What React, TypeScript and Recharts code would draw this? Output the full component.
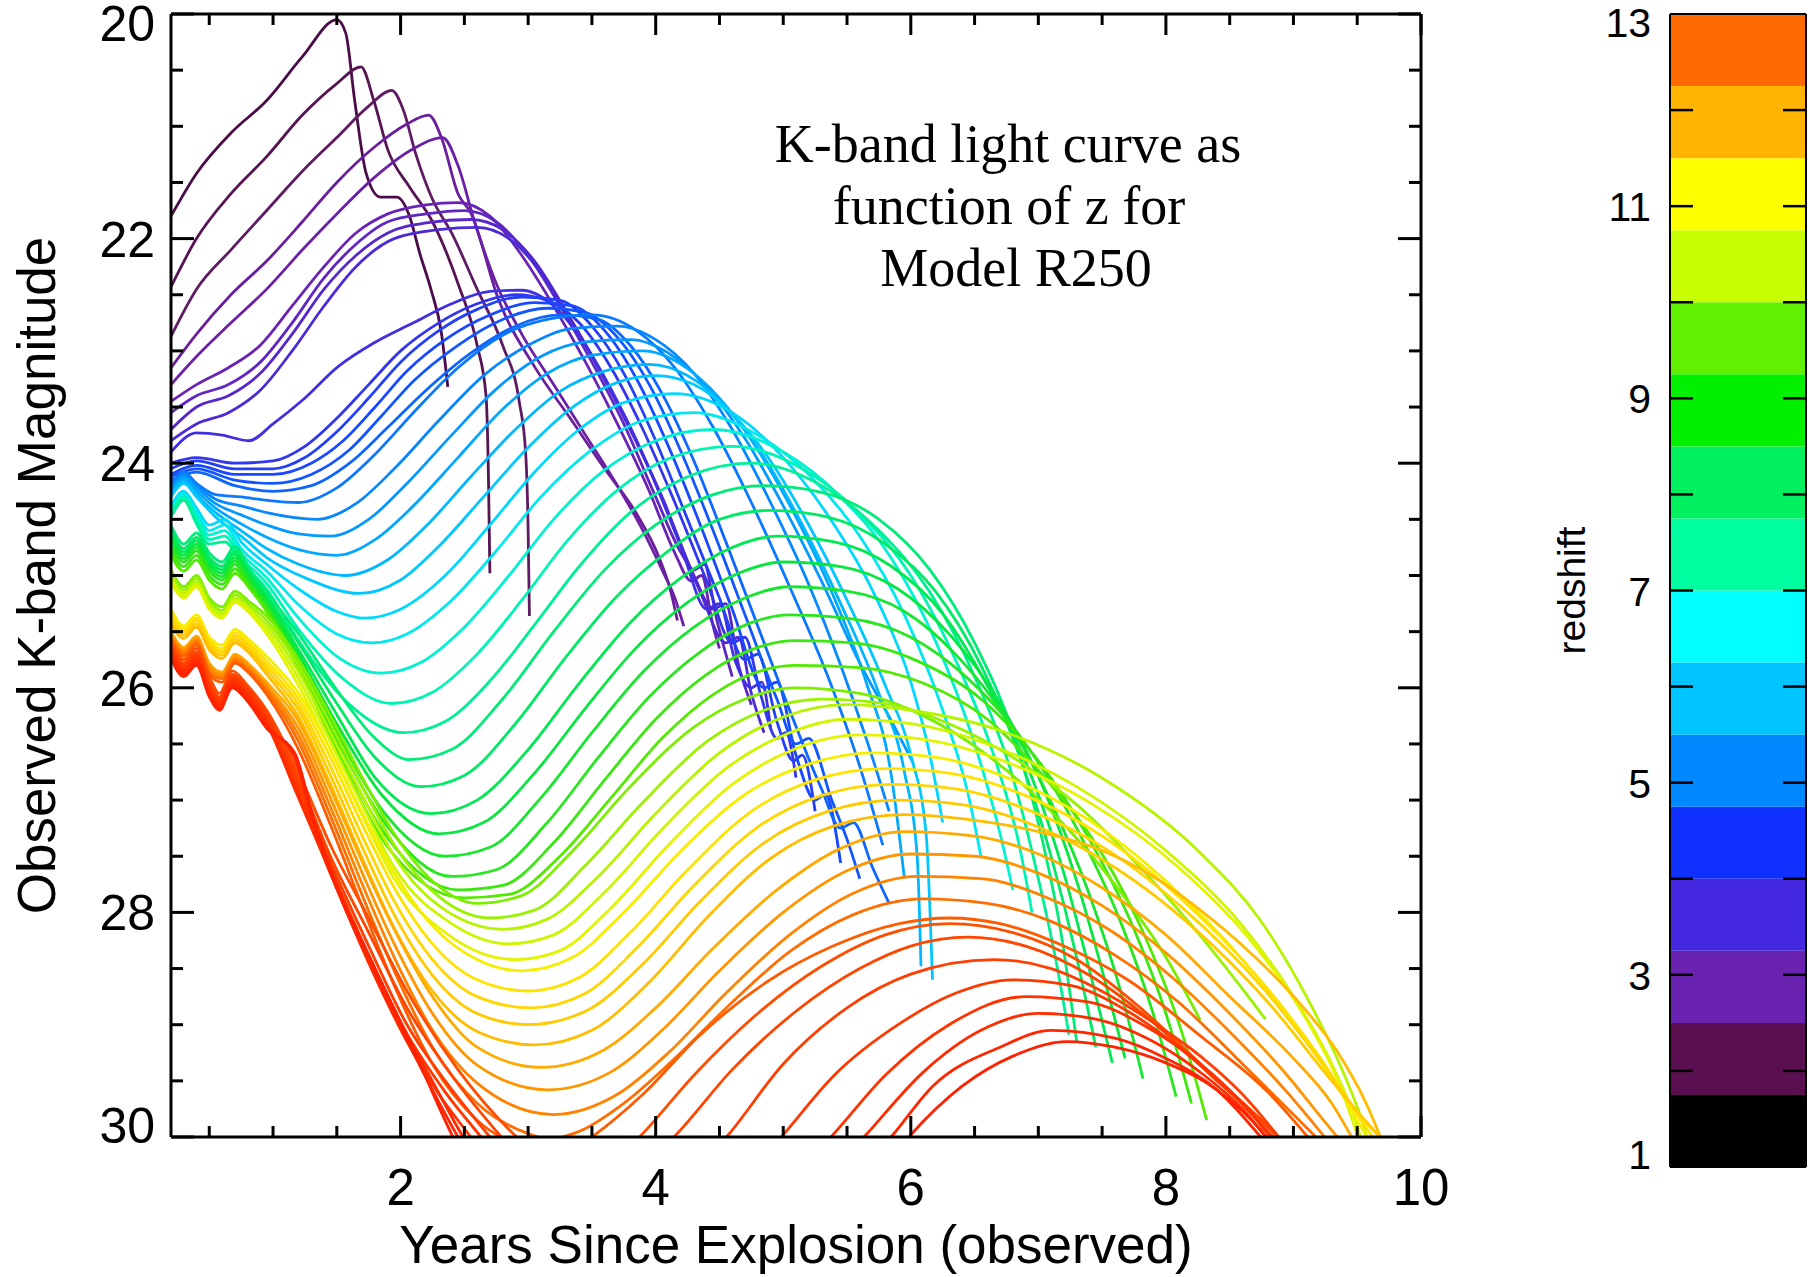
import React from 'react';
import { LineChart, Line, XAxis, YAxis, BarChart, Bar } from 'recharts';

type Pt = [number, number];

const SANS = '"Liberation Sans", Arial, Helvetica, sans-serif';
const SERIF = '"Liberation Serif", "Times New Roman", serif';

// axis ticks
const xTicks = [0.5, 1, 1.5, 2, 2.5, 3, 3.5, 4, 4.5, 5, 5.5, 6, 6.5, 7, 7.5, 8, 8.5, 9, 9.5, 10];
const xLabels = [2, 4, 6, 8, 10];
const yTicks = [20, 20.5, 21, 21.5, 22, 22.5, 23, 23.5, 24, 24.5, 25, 25.5, 26, 26.5, 27, 27.5, 28, 28.5, 29, 29.5, 30];
const yLabels = [20, 22, 24, 26, 28, 30];

// redshift colour bar
const zTicks = [1, 2, 3, 4, 5, 6, 7, 8, 9, 10, 11, 12, 13];
const zLabels = [1, 3, 5, 7, 9, 11, 13];
const zBandStart = [1, 1.75, 2.5, 3.25, 4, 4.75, 5.5, 6.25, 7, 7.75, 8.5, 9.25, 10, 10.75, 11.5, 12.25];
const zBandColor = [
  '#000000', '#5a1050', '#6a22b0', '#4428e0', '#1030ff', '#0088ff', '#00c4ff', '#00ffff',
  '#00ffa0', '#00f060', '#00f000', '#60f000', '#c8ff00', '#ffff00', '#ffb400', '#ff6a00',
];
const Z_BAND = 0.75;

const noteLines = ['K-band light curve as', 'function of z for', 'Model R250'];

// light curves, [years, K mag]
// z ~ 2
const dp1: Pt[] = [[0.2,21.8],[0.4,21.42],[0.67,21.06],[0.95,20.77],[1.23,20.38],[1.5,20.05],[1.57,20.17],[1.64,20.77],[1.73,21.42],[1.84,21.63],[1.97,21.63],[2.07,21.8],[2.15,22.13],[2.24,22.46],[2.32,22.84],[2.37,23.32]];
const dp2: Pt[] = [[0.2,22.43],[0.4,22.0],[0.67,21.6],[0.95,21.27],[1.23,20.9],[1.5,20.62],[1.69,20.47],[1.79,20.77],[1.9,21.21],[2.07,21.54],[2.25,21.85],[2.45,22.4],[2.6,22.95],[2.67,23.4],[2.69,24.2],[2.7,24.98]];
const dp3: Pt[] = [[0.2,22.87],[0.4,22.45],[0.67,22.1],[0.95,21.75],[1.23,21.4],[1.5,21.1],[1.75,20.82],[1.93,20.68],[2.02,20.85],[2.12,21.25],[2.25,21.65],[2.4,21.95],[2.6,22.45],[2.8,22.95],[2.93,23.45],[2.98,23.9],[3.0,24.6],[3.01,25.36]];

// z ~ 3
const pu1: Pt[] = [[0.2,23.15],[0.4,22.85],[0.67,22.5],[0.95,22.2],[1.23,21.85],[1.5,21.5],[1.8,21.18],[2.05,20.98],[2.22,20.9],[2.32,21.1],[2.45,21.6],[2.55,21.77],[2.77,22.55],[3.05,23.14],[3.33,23.6],[3.6,24.05],[3.85,24.45],[4.03,24.85],[4.12,25.15],[4.17,25.4]];
const pu2: Pt[] = [[0.2,23.3],[0.4,23.05],[0.67,22.75],[0.95,22.45],[1.23,22.1],[1.5,21.78],[1.8,21.45],[2.1,21.2],[2.33,21.1],[2.45,21.35],[2.58,21.85],[2.75,22.4],[2.95,22.85],[3.2,23.3],[3.45,23.75],[3.7,24.2],[3.9,24.6],[4.05,24.95],[4.15,25.2],[4.22,25.45]];
const pu3: Pt[] = [[0.2,23.45],[0.4,23.3],[0.65,23.15],[0.9,22.95],[1.15,22.6],[1.4,22.25],[1.65,21.95],[1.9,21.78],[2.2,21.7],[2.45,21.68],[2.7,21.8],[2.95,22.15],[3.2,22.6],[3.45,23.1],[3.7,23.65],[3.95,24.25],[4.15,24.8],[4.28,25.05],[4.36,25.0],[4.45,25.45],[4.5,25.65]];
const pu4: Pt[] = [[0.2,23.55],[0.4,23.4],[0.65,23.3],[0.9,23.1],[1.15,22.75],[1.4,22.35],[1.65,22.05],[1.9,21.85],[2.2,21.78],[2.5,21.75],[2.75,21.85],[3.0,22.15],[3.25,22.6],[3.5,23.1],[3.75,23.65],[4.0,24.3],[4.2,24.8],[4.3,24.95],[4.38,24.9],[4.48,25.4],[4.6,25.9]];
const pu5: Pt[] = [[0.2,23.7],[0.4,23.5],[0.65,23.4],[0.9,23.2],[1.15,22.85],[1.4,22.45],[1.65,22.15],[1.9,21.95],[2.2,21.86],[2.55,21.83],[2.8,21.92],[3.05,22.2],[3.3,22.65],[3.55,23.15],[3.8,23.7],[4.05,24.3],[4.3,25.0],[4.45,25.3],[4.55,25.25],[4.65,25.8],[4.75,26.15]];
const pu6: Pt[] = [[0.2,23.8],[0.4,23.65],[0.65,23.55],[0.9,23.35],[1.15,23.0],[1.4,22.6],[1.65,22.25],[1.95,22.0],[2.3,21.92],[2.6,21.9],[2.85,22.0],[3.1,22.3],[3.35,22.75],[3.6,23.25],[3.85,23.8],[4.1,24.45],[4.35,25.15],[4.55,25.6],[4.65,25.55],[4.75,26.05],[4.85,26.4]];

// z ~ 4
const bl1: Pt[] = [[0.2,23.9],[0.4,23.73],[0.6,23.75],[0.81,23.8],[1.0,23.65],[1.23,23.44],[1.51,23.14],[1.79,22.93],[2.1,22.75],[2.4,22.58],[2.7,22.47],[2.95,22.46],[3.2,22.6],[3.45,22.95],[3.7,23.45],[3.95,24.05],[4.2,24.75],[4.4,25.3],[4.5,25.25],[4.62,25.75],[4.75,26.0],[4.83,25.95],[4.9,26.35]];
const bl2: Pt[] = [[0.2,24.0],[0.4,23.95],[0.7,24.0],[1.0,23.98],[1.25,23.85],[1.5,23.6],[1.75,23.3],[2.0,23.0],[2.3,22.75],[2.6,22.58],[2.9,22.5],[3.15,22.55],[3.4,22.75],[3.65,23.15],[3.9,23.7],[4.15,24.35],[4.4,25.05],[4.6,25.6],[4.7,25.55],[4.82,26.05],[4.95,26.45],[5.02,26.4],[5.1,26.8]];
const bl3: Pt[] = [[0.2,24.05],[0.4,23.98],[0.7,24.05],[1.0,24.05],[1.25,23.95],[1.5,23.72],[1.75,23.42],[2.0,23.1],[2.3,22.82],[2.6,22.63],[2.95,22.52],[3.25,22.55],[3.5,22.78],[3.75,23.2],[4.0,23.8],[4.25,24.5],[4.5,25.2],[4.7,25.75],[4.8,25.7],[4.95,26.3],[5.08,26.65],[5.15,26.6],[5.25,27.1]];
const bl4: Pt[] = [[0.2,24.1],[0.4,24.02],[0.7,24.1],[1.0,24.1],[1.3,24.0],[1.55,23.8],[1.8,23.5],[2.05,23.18],[2.35,22.9],[2.7,22.68],[3.05,22.57],[3.35,22.6],[3.6,22.82],[3.85,23.25],[4.1,23.85],[4.35,24.55],[4.6,25.3],[4.85,26.0],[4.95,25.95],[5.1,26.6],[5.25,27.0],[5.33,26.95],[5.45,27.56]];
const bl5: Pt[] = [[0.2,24.12],[0.4,24.05],[0.7,24.15],[1.0,24.18],[1.3,24.1],[1.6,23.88],[1.85,23.58],[2.1,23.27],[2.45,22.95],[2.8,22.72],[3.15,22.62],[3.45,22.66],[3.7,22.88],[3.95,23.3],[4.2,23.9],[4.45,24.6],[4.7,25.35],[4.95,26.1],[5.1,26.5],[5.2,26.45],[5.38,27.0],[5.5,27.35],[5.6,27.7]];
const bl6: Pt[] = [[0.2,24.15],[0.4,24.08],[0.7,24.2],[1.0,24.25],[1.3,24.2],[1.6,24.0],[1.9,23.68],[2.2,23.35],[2.55,23.02],[2.9,22.78],[3.25,22.68],[3.55,22.72],[3.8,22.95],[4.05,23.38],[4.3,23.98],[4.55,24.7],[4.8,25.45],[5.05,26.2],[5.3,26.9],[5.45,27.25],[5.55,27.2],[5.7,27.6],[5.83,27.92]];

// z ~ 5-6
const az1: Pt[] = [[0.2,24.2],[0.3,24.08],[0.4,24.18],[0.55,24.28],[0.75,24.3],[0.95,24.33],[1.2,24.35],[1.5,24.22],[1.8,23.92],[2.1,23.55],[2.45,23.15],[2.8,22.86],[3.15,22.72],[3.5,22.68],[3.85,22.82],[4.15,23.15],[4.45,23.68],[4.75,24.35],[5.05,25.1],[5.35,25.9],[5.6,26.7],[5.78,27.4]];
const az2: Pt[] = [[0.2,24.22],[0.3,24.1],[0.4,24.2],[0.55,24.32],[0.75,24.38],[0.95,24.44],[1.35,24.5],[1.65,24.36],[1.95,24.05],[2.3,23.62],[2.65,23.22],[3.0,22.95],[3.35,22.8],[3.7,22.78],[4.0,22.9],[4.3,23.2],[4.6,23.7],[4.9,24.35],[5.2,25.08],[5.45,25.8],[5.65,26.45],[5.83,27.1]];
const az3: Pt[] = [[0.2,24.24],[0.3,24.12],[0.4,24.22],[0.55,24.36],[0.75,24.46],[0.95,24.55],[1.2,24.63],[1.45,24.65],[1.75,24.5],[2.05,24.18],[2.4,23.75],[2.75,23.34],[3.1,23.05],[3.45,22.92],[3.8,22.9],[4.1,23.02],[4.4,23.32],[4.7,23.78],[5.0,24.38],[5.3,25.05],[5.6,25.78],[5.85,26.3],[6.02,26.67]];
const az4: Pt[] = [[0.2,24.26],[0.3,24.14],[0.4,24.25],[0.55,24.4],[0.75,24.54],[0.95,24.66],[1.2,24.77],[1.5,24.82],[1.8,24.68],[2.1,24.38],[2.45,23.95],[2.8,23.52],[3.15,23.2],[3.5,23.04],[3.9,23.0],[4.2,23.12],[4.5,23.42],[4.8,23.88],[5.1,24.48],[5.4,25.2],[5.65,25.95],[5.85,26.8],[5.95,27.7]];
const az5: Pt[] = [[0.2,24.28],[0.3,24.16],[0.4,24.28],[0.55,24.44],[0.75,24.6],[0.95,24.76],[1.2,24.9],[1.57,25.0],[1.9,24.86],[2.2,24.56],[2.55,24.12],[2.9,23.7],[3.25,23.36],[3.6,23.18],[3.95,23.12],[4.25,23.22],[4.55,23.5],[4.85,23.95],[5.15,24.55],[5.45,25.25],[5.75,26.05],[5.95,26.75],[6.05,27.5],[6.08,28.48]];
const az6: Pt[] = [[0.2,24.3],[0.3,24.18],[0.4,24.3],[0.55,24.48],[0.75,24.65],[0.95,24.84],[1.25,25.02],[1.68,25.16],[2.0,25.04],[2.3,24.74],[2.65,24.3],[3.0,23.86],[3.35,23.5],[3.7,23.28],[4.0,23.22],[4.3,23.3],[4.6,23.56],[4.9,23.98],[5.2,24.55],[5.5,25.22],[5.8,25.98],[6.0,26.6],[6.12,27.3],[6.17,28.6]];

// z ~ 7
const cy1: Pt[] = [[0.2,24.38],[0.3,24.25],[0.4,24.4],[0.5,24.55],[0.62,24.5],[0.75,24.7],[0.95,24.9],[1.2,25.12],[1.5,25.32],[1.72,25.38],[2.0,25.3],[2.35,25.0],[2.7,24.55],[3.05,24.08],[3.4,23.7],[3.75,23.46],[4.15,23.38],[4.6,23.55],[5.0,23.95],[5.4,24.55],[5.75,25.25],[6.0,25.95],[6.15,26.6],[6.25,27.2]];
const cy2: Pt[] = [[0.2,24.4],[0.3,24.27],[0.4,24.43],[0.5,24.6],[0.62,24.55],[0.75,24.76],[0.95,24.96],[1.2,25.26],[1.5,25.52],[1.78,25.6],[2.05,25.52],[2.4,25.22],[2.75,24.78],[3.1,24.3],[3.5,23.88],[3.9,23.62],[4.3,23.55],[4.8,23.75],[5.2,24.1],[5.6,24.65],[5.95,25.35],[6.25,26.2],[6.45,26.95],[6.55,27.5]];
const cy3: Pt[] = [[0.2,24.42],[0.3,24.29],[0.4,24.46],[0.5,24.64],[0.62,24.6],[0.75,24.8],[0.95,25.02],[1.2,25.38],[1.5,25.72],[1.85,25.87],[2.15,25.78],[2.5,25.46],[2.85,25.0],[3.2,24.5],[3.6,24.06],[4.0,23.8],[4.45,23.7],[5.0,23.9],[5.45,24.3],[5.85,24.85],[6.2,25.6],[6.5,26.5],[6.7,27.3],[6.8,27.8]];
const cy4: Pt[] = [[0.2,24.45],[0.3,24.31],[0.4,24.5],[0.5,24.68],[0.62,24.65],[0.75,24.84],[0.95,25.07],[1.2,25.48],[1.55,25.92],[1.93,26.14],[2.25,26.04],[2.6,25.7],[2.95,25.22],[3.3,24.7],[3.7,24.24],[4.1,23.96],[4.6,23.85],[5.15,24.05],[5.6,24.45],[6.0,25.0],[6.35,25.75],[6.65,26.6],[6.85,27.4],[6.95,28.0]];
const cy5: Pt[] = [[0.2,24.48],[0.3,24.33],[0.4,24.54],[0.5,24.72],[0.62,24.7],[0.75,24.88],[0.95,25.12],[1.2,25.58],[1.6,26.15],[2.02,26.4],[2.35,26.3],[2.7,25.94],[3.05,25.44],[3.4,24.92],[3.8,24.44],[4.25,24.12],[4.75,24.0],[5.3,24.2],[5.75,24.6],[6.15,25.15],[6.5,25.9],[6.8,26.8],[7.0,27.7],[7.15,28.5],[7.24,29.09]];

// z ~ 8-9
const gr1: Pt[] = [[0.2,24.55],[0.3,24.72],[0.4,24.62],[0.5,24.8],[0.6,24.88],[0.7,24.74],[0.82,24.95],[0.95,25.15],[1.2,25.52],[1.5,26.02],[1.8,26.45],[2.07,26.64],[2.4,26.55],[2.8,26.1],[3.2,25.5],[3.6,24.95],[4.0,24.55],[4.45,24.28],[4.85,24.2],[5.3,24.26],[5.75,24.5],[6.15,24.95],[6.5,25.6],[6.8,26.4],[7.02,27.3],[7.18,28.2],[7.3,29.15]];
const gr2: Pt[] = [[0.2,24.6],[0.3,24.76],[0.4,24.66],[0.5,24.84],[0.6,24.92],[0.7,24.78],[0.82,24.98],[0.95,25.18],[1.2,25.6],[1.5,26.14],[1.8,26.62],[2.16,26.88],[2.5,26.78],[2.9,26.32],[3.3,25.72],[3.7,25.18],[4.1,24.78],[4.5,24.5],[4.9,24.42],[5.35,24.48],[5.8,24.72],[6.2,25.15],[6.55,25.8],[6.85,26.6],[7.1,27.5],[7.3,28.4],[7.45,29.2]];
const gr3: Pt[] = [[0.2,24.63],[0.3,24.79],[0.4,24.69],[0.5,24.87],[0.6,24.95],[0.7,24.81],[0.82,25.0],[0.95,25.2],[1.2,25.66],[1.5,26.24],[1.8,26.8],[2.24,27.12],[2.6,27.0],[3.0,26.55],[3.4,25.96],[3.8,25.42],[4.2,25.02],[4.6,24.75],[4.95,24.65],[5.4,24.7],[5.85,24.92],[6.25,25.34],[6.6,25.98],[6.95,26.8],[7.2,27.65],[7.42,28.6],[7.58,29.34]];
const gr4: Pt[] = [[0.2,24.66],[0.3,24.82],[0.4,24.72],[0.5,24.9],[0.6,24.98],[0.7,24.84],[0.82,25.02],[0.95,25.22],[1.2,25.7],[1.5,26.32],[1.85,26.95],[2.3,27.3],[2.65,27.2],[3.05,26.76],[3.45,26.18],[3.85,25.64],[4.25,25.24],[4.65,24.98],[5.0,24.88],[5.45,24.92],[5.9,25.12],[6.3,25.52],[6.7,26.14],[7.05,26.92],[7.3,27.72],[7.52,28.6],[7.68,29.3]];
const gr5: Pt[] = [[0.2,24.7],[0.3,24.85],[0.4,24.75],[0.5,24.93],[0.6,25.01],[0.7,24.87],[0.82,25.05],[0.95,25.25],[1.2,25.74],[1.5,26.4],[1.85,27.08],[2.35,27.5],[2.7,27.42],[3.1,26.98],[3.5,26.4],[3.9,25.86],[4.3,25.46],[4.7,25.2],[5.05,25.1],[5.5,25.14],[5.95,25.32],[6.35,25.7],[6.75,26.28],[7.1,27.02],[7.4,27.84],[7.65,28.72],[7.82,29.48]];
const gr6: Pt[] = [[0.2,24.74],[0.3,24.88],[0.4,24.78],[0.5,24.96],[0.6,25.04],[0.7,24.9],[0.82,25.08],[0.95,25.28],[1.2,25.78],[1.5,26.46],[1.9,27.24],[2.4,27.68],[2.75,27.62],[3.15,27.2],[3.55,26.62],[3.95,26.08],[4.35,25.68],[4.75,25.42],[5.05,25.35],[5.5,25.38],[6.0,25.55],[6.45,25.92],[6.9,26.5],[7.3,27.25],[7.65,28.1],[7.9,28.9],[8.08,29.64]];
const gr7: Pt[] = [[0.2,24.78],[0.3,24.92],[0.4,24.82],[0.5,25.0],[0.6,25.08],[0.7,24.94],[0.82,25.1],[0.95,25.3],[1.2,25.8],[1.5,26.52],[1.9,27.34],[2.45,27.8],[2.8,27.76],[3.2,27.38],[3.6,26.82],[4.0,26.28],[4.4,25.88],[4.8,25.64],[5.1,25.58],[5.55,25.6],[6.05,25.76],[6.55,26.1],[7.0,26.65],[7.4,27.35],[7.75,28.15],[8.0,28.9],[8.2,29.7]];
const gr8: Pt[] = [[0.2,24.82],[0.3,24.96],[0.4,24.86],[0.5,25.04],[0.6,25.12],[0.7,24.98],[0.82,25.12],[0.95,25.32],[1.2,25.82],[1.5,26.56],[1.9,27.42],[2.5,27.87],[2.85,27.84],[3.25,27.5],[3.65,26.98],[4.05,26.45],[4.45,26.06],[4.85,25.84],[5.1,25.8],[5.6,25.82],[6.1,25.96],[6.6,26.28],[7.05,26.8],[7.5,27.48],[7.85,28.25],[8.12,29.05],[8.32,29.85]];

// z ~ 10
const lm1: Pt[] = [[0.2,24.95],[0.3,25.1],[0.4,25.0],[0.5,25.2],[0.6,25.28],[0.7,25.14],[0.82,25.24],[0.95,25.36],[1.2,25.75],[1.45,26.25],[1.7,26.8],[1.95,27.3],[2.25,27.72],[2.6,27.92],[2.95,27.85],[3.35,27.45],[3.8,26.88],[4.3,26.35],[4.7,26.1],[5.1,26.0],[5.6,26.05],[6.1,26.25],[6.6,26.6],[7.1,27.1],[7.6,27.75],[8.0,28.4],[8.27,28.96]];
const lm2: Pt[] = [[0.2,24.98],[0.3,25.13],[0.4,25.03],[0.5,25.23],[0.6,25.31],[0.7,25.17],[0.82,25.27],[0.95,25.4],[1.2,25.8],[1.45,26.32],[1.7,26.88],[1.95,27.4],[2.3,27.86],[2.7,28.05],[3.05,27.98],[3.45,27.58],[3.9,27.02],[4.4,26.48],[4.85,26.2],[5.3,26.1],[5.8,26.14],[6.3,26.32],[6.8,26.62],[7.3,27.04],[7.8,27.6],[8.3,28.25],[8.78,28.95]];
const lm3: Pt[] = [[0.2,25.0],[0.3,25.16],[0.4,25.06],[0.5,25.26],[0.6,25.34],[0.7,25.2],[0.82,25.3],[0.95,25.44],[1.2,25.86],[1.45,26.4],[1.7,26.96],[1.95,27.5],[2.35,27.98],[2.8,28.15],[3.15,28.06],[3.55,27.68],[4.0,27.12],[4.5,26.58],[5.0,26.26],[5.5,26.15],[6.0,26.2],[6.7,26.38],[7.48,26.79],[8.27,27.47],[8.74,28.07],[9.13,28.81],[9.4,29.45],[9.55,29.9],[9.6,30.1]];
const lm4: Pt[] = [[0.2,25.03],[0.3,25.18],[0.4,25.08],[0.5,25.28],[0.6,25.36],[0.7,25.22],[0.82,25.32],[0.95,25.48],[1.2,25.92],[1.45,26.48],[1.7,27.05],[1.95,27.6],[2.4,28.1],[2.85,28.28],[3.2,28.2],[3.6,27.82],[4.05,27.26],[4.55,26.72],[5.05,26.4],[5.5,26.28],[6.0,26.32],[6.6,26.5],[7.3,26.88],[8.0,27.45],[8.6,28.12],[9.0,28.75],[9.3,29.35],[9.5,29.9],[9.55,30.1]];
const lm5: Pt[] = [[0.2,25.06],[0.3,25.2],[0.4,25.1],[0.5,25.3],[0.6,25.38],[0.7,25.24],[0.82,25.34],[0.95,25.52],[1.2,25.98],[1.45,26.55],[1.7,27.14],[1.95,27.7],[2.4,28.22],[2.9,28.42],[3.25,28.34],[3.65,27.96],[4.1,27.4],[4.6,26.86],[5.1,26.54],[5.6,26.42],[6.1,26.46],[6.7,26.64],[7.4,27.02],[8.1,27.6],[8.7,28.3],[9.1,28.95],[9.35,29.5],[9.52,30.05]];

// z ~ 11
const ye1: Pt[] = [[0.2,25.3],[0.3,25.45],[0.4,25.35],[0.5,25.55],[0.6,25.62],[0.7,25.48],[0.82,25.58],[0.95,25.72],[1.2,26.05],[1.45,26.55],[1.7,27.12],[1.95,27.65],[2.25,28.12],[2.6,28.42],[2.95,28.52],[3.35,28.4],[3.75,28.0],[4.2,27.45],[4.7,26.95],[5.2,26.68],[5.7,26.58],[6.2,26.62],[6.8,26.82],[7.4,27.18],[8.0,27.72],[8.6,28.42],[9.1,29.15],[9.45,29.75],[9.6,30.05]];
const ye2: Pt[] = [[0.2,25.33],[0.3,25.48],[0.4,25.38],[0.5,25.58],[0.6,25.65],[0.7,25.51],[0.82,25.61],[0.95,25.76],[1.2,26.1],[1.45,26.62],[1.7,27.22],[1.95,27.78],[2.25,28.28],[2.6,28.6],[3.0,28.7],[3.4,28.58],[3.8,28.18],[4.25,27.62],[4.75,27.1],[5.25,26.82],[5.8,26.72],[6.3,26.76],[6.9,26.96],[7.5,27.32],[8.1,27.86],[8.7,28.55],[9.2,29.28],[9.5,29.8],[9.65,30.05]];
const ye3: Pt[] = [[0.2,25.36],[0.3,25.5],[0.4,25.4],[0.5,25.6],[0.6,25.68],[0.7,25.54],[0.82,25.64],[0.95,25.8],[1.2,26.15],[1.45,26.7],[1.7,27.32],[1.95,27.9],[2.25,28.42],[2.6,28.75],[3.02,28.85],[3.45,28.72],[3.85,28.32],[4.3,27.76],[4.8,27.24],[5.3,26.96],[5.85,26.86],[6.35,26.9],[6.95,27.1],[7.55,27.45],[8.15,27.98],[8.75,28.66],[9.25,29.38],[9.55,29.85],[9.72,30.05]];
const ye4: Pt[] = [[0.2,25.4],[0.3,25.53],[0.4,25.43],[0.5,25.63],[0.6,25.71],[0.7,25.57],[0.82,25.67],[0.95,25.84],[1.2,26.2],[1.45,26.78],[1.7,27.42],[1.95,28.02],[2.25,28.56],[2.6,28.9],[3.0,29.0],[3.45,28.88],[3.9,28.46],[4.35,27.9],[4.85,27.38],[5.35,27.1],[5.9,27.0],[6.4,27.04],[7.0,27.24],[7.6,27.6],[8.2,28.12],[8.8,28.8],[9.3,29.5],[9.6,29.9],[9.76,30.1]];
const ye5: Pt[] = [[0.2,25.44],[0.3,25.56],[0.4,25.46],[0.5,25.66],[0.6,25.74],[0.7,25.6],[0.82,25.7],[0.95,25.88],[1.2,26.26],[1.45,26.86],[1.7,27.52],[1.95,28.14],[2.25,28.7],[2.6,29.06],[3.05,29.18],[3.5,29.05],[3.95,28.62],[4.4,28.05],[4.9,27.52],[5.4,27.23],[5.95,27.13],[6.5,27.18],[7.0,27.28],[7.48,27.44],[7.9,27.68],[8.27,27.98],[8.7,28.4],[9.05,28.81],[9.35,29.25],[9.57,29.7],[9.7,30.05]];

// z ~ 12
const or1: Pt[] = [[0.2,25.5],[0.3,25.64],[0.4,25.54],[0.5,25.78],[0.6,25.86],[0.7,25.7],[0.82,25.8],[0.95,25.95],[1.2,26.3],[1.45,26.9],[1.7,27.55],[1.95,28.15],[2.25,28.75],[2.6,29.2],[3.1,29.38],[3.6,29.22],[4.0,28.85],[4.45,28.32],[4.95,27.8],[5.45,27.43],[5.95,27.28],[6.5,27.32],[7.0,27.48],[7.5,27.78],[8.0,28.2],[8.5,28.75],[9.0,29.3],[9.3,29.7],[9.48,30.05]];
const or2: Pt[] = [[0.2,25.52],[0.3,25.66],[0.4,25.56],[0.5,25.8],[0.6,25.88],[0.7,25.72],[0.82,25.82],[0.95,25.98],[1.2,26.36],[1.45,26.98],[1.7,27.65],[1.95,28.28],[2.25,28.9],[2.6,29.36],[3.15,29.58],[3.65,29.42],[4.05,29.05],[4.5,28.52],[5.0,28.0],[5.5,27.63],[6.0,27.48],[6.5,27.5],[7.0,27.65],[7.5,27.94],[8.0,28.36],[8.5,28.9],[8.95,29.45],[9.2,29.8],[9.38,30.05]];
const or3: Pt[] = [[0.2,25.54],[0.3,25.68],[0.4,25.58],[0.5,25.83],[0.6,25.9],[0.7,25.74],[0.82,25.84],[0.95,26.0],[1.2,26.42],[1.45,27.06],[1.7,27.75],[1.95,28.4],[2.25,29.05],[2.6,29.52],[3.2,29.8],[3.7,29.62],[4.1,29.25],[4.55,28.72],[5.05,28.2],[5.55,27.83],[6.05,27.68],[6.55,27.7],[7.05,27.86],[7.55,28.15],[8.05,28.58],[8.55,29.12],[8.95,29.6],[9.28,30.05]];
const or4: Pt[] = [[0.2,25.56],[0.3,25.7],[0.4,25.6],[0.5,25.86],[0.6,25.92],[0.7,25.76],[0.82,25.86],[0.95,26.03],[1.2,26.48],[1.45,27.14],[1.7,27.85],[1.95,28.52],[2.25,29.2],[2.6,29.7],[3.0,29.97],[3.16,30.02],[3.4,29.95],[3.75,29.7],[4.15,29.3],[4.6,28.8],[5.05,28.35],[5.55,28.02],[6.1,27.88],[6.6,27.92],[7.1,28.08],[7.6,28.38],[8.1,28.8],[8.6,29.35],[9.0,29.8],[9.22,30.05]];
const or5: Pt[] = [[0.2,25.58],[0.3,25.72],[0.4,25.62],[0.5,25.88],[0.6,25.95],[0.7,25.78],[0.82,25.88],[0.95,26.06],[1.2,26.55],[1.45,27.22],[1.7,27.95],[1.95,28.65],[2.25,29.35],[2.6,29.85],[3.0,30.1],[3.3,30.15],[3.5,30.0],[3.9,29.62],[4.34,29.1],[4.87,28.62],[5.39,28.3],[5.91,28.1],[6.3,28.05],[6.7,28.1],[7.2,28.3],[7.7,28.6],[8.27,29.1],[8.8,29.6],[9.15,30.05]];

// z ~ 13
const rd1: Pt[] = [[0.2,25.6],[0.3,25.75],[0.4,25.65],[0.5,25.9],[0.58,26.05],[0.68,25.85],[0.8,25.98],[0.95,26.2],[1.2,26.75],[1.45,27.4],[1.75,28.05],[2.05,28.7],[2.45,29.4],[2.91,30.0],[3.3,30.35],[3.6,30.3],[3.89,29.98],[4.3,29.45],[4.8,28.9],[5.3,28.48],[5.8,28.2],[6.3,28.1],[6.8,28.18],[7.3,28.42],[7.8,28.85],[8.3,29.38],[8.7,29.8],[9.0,30.15]];
const rd2: Pt[] = [[0.2,25.62],[0.3,25.78],[0.4,25.68],[0.5,25.95],[0.58,26.08],[0.68,25.88],[0.8,26.0],[0.95,26.22],[1.2,26.8],[1.45,27.5],[1.75,28.18],[2.05,28.85],[2.4,29.45],[2.79,30.0],[3.2,30.5],[3.7,30.45],[4.16,29.98],[4.6,29.4],[5.1,28.88],[5.6,28.5],[6.0,28.3],[6.45,28.22],[6.9,28.3],[7.4,28.56],[7.9,28.98],[8.4,29.5],[8.75,29.85],[8.96,30.1]];
const rd3: Pt[] = [[0.2,25.64],[0.3,25.8],[0.4,25.7],[0.5,25.98],[0.58,26.1],[0.68,25.9],[0.8,26.02],[0.95,26.25],[1.2,26.85],[1.45,27.55],[1.75,28.3],[2.05,29.0],[2.35,29.5],[2.7,30.0],[3.2,30.7],[3.9,30.75],[4.57,29.98],[5.0,29.35],[5.5,28.85],[6.0,28.55],[6.65,28.42],[7.1,28.5],[7.48,28.69],[7.9,28.98],[8.27,29.28],[8.6,29.62],[8.92,30.05]];
const rd4: Pt[] = [[0.2,25.66],[0.3,25.82],[0.4,25.72],[0.5,26.0],[0.58,26.12],[0.68,25.92],[0.8,26.04],[0.95,26.28],[1.2,26.9],[1.45,27.6],[1.75,28.38],[2.05,29.08],[2.35,29.6],[2.63,30.0],[3.2,30.85],[4.0,31.0],[4.6,30.5],[5.0,29.98],[5.4,29.45],[5.9,29.0],[6.35,28.72],[6.8,28.6],[7.25,28.65],[7.7,28.88],[8.1,29.2],[8.5,29.6],[8.88,30.05]];
const rd5: Pt[] = [[0.2,25.68],[0.3,25.84],[0.4,25.74],[0.5,26.02],[0.58,26.14],[0.68,25.94],[0.8,26.06],[0.95,26.3],[1.2,26.95],[1.45,27.65],[1.75,28.45],[2.05,29.15],[2.3,29.62],[2.55,30.0],[3.2,31.0],[4.2,31.2],[5.0,30.45],[5.39,29.98],[5.8,29.45],[6.3,29.0],[6.9,28.75],[7.4,28.8],[7.85,29.02],[8.25,29.33],[8.6,29.7],[8.85,30.05]];
const rd6: Pt[] = [[0.2,25.7],[0.3,25.86],[0.4,25.76],[0.5,26.04],[0.58,26.16],[0.68,25.96],[0.8,26.08],[0.95,26.32],[1.17,26.9],[1.32,27.3],[1.6,28.05],[1.9,28.8],[2.2,29.4],[2.49,30.0],[3.2,31.1],[4.4,31.3],[5.2,30.55],[5.65,29.98],[6.1,29.42],[6.55,29.05],[7.0,28.9],[7.45,28.95],[7.9,29.15],[8.3,29.45],[8.6,29.75],[8.82,30.05]];
const rd7: Pt[] = [[0.2,25.72],[0.3,25.88],[0.4,25.78],[0.5,26.06],[0.58,26.18],[0.68,25.98],[0.8,26.1],[0.95,26.34],[1.17,26.62],[1.32,27.22],[1.45,27.64],[1.8,28.55],[2.1,29.25],[2.45,30.0],[3.2,31.3],[4.6,31.4],[5.4,30.55],[5.86,29.98],[6.17,29.55],[6.7,29.2],[7.1,29.05],[7.6,29.12],[8.0,29.3],[8.4,29.58],[8.78,30.05]];
const rd8: Pt[] = [[0.2,25.74],[0.3,25.9],[0.4,25.8],[0.5,26.08],[0.58,26.2],[0.68,26.0],[0.8,26.12],[0.95,26.36],[1.17,26.58],[1.32,27.18],[1.45,27.62],[1.8,28.5],[2.1,29.22],[2.41,30.0],[3.2,31.4],[4.8,31.5],[5.6,30.55],[6.0,29.98],[6.4,29.55],[6.8,29.28],[7.22,29.15],[7.6,29.2],[8.0,29.34],[8.4,29.58],[8.75,29.95],[8.85,30.1]];

// drawing order runs from low to high redshift
const series: { key: string; pts: Pt[]; color: string }[] = [
  { key: 'dp1', pts: dp1, color: '#4a0c48' },
  { key: 'dp2', pts: dp2, color: '#561452' },
  { key: 'dp3', pts: dp3, color: '#5e1a62' },
  { key: 'pu1', pts: pu1, color: '#6a1e9c' },
  { key: 'pu2', pts: pu2, color: '#6c20a6' },
  { key: 'pu3', pts: pu3, color: '#6a24b4' },
  { key: 'pu4', pts: pu4, color: '#6026c2' },
  { key: 'pu5', pts: pu5, color: '#5628cc' },
  { key: 'pu6', pts: pu6, color: '#4c2ad6' },
  { key: 'bl1', pts: bl1, color: '#4030e2' },
  { key: 'bl2', pts: bl2, color: '#3236ec' },
  { key: 'bl3', pts: bl3, color: '#2440f6' },
  { key: 'bl4', pts: bl4, color: '#1848ff' },
  { key: 'bl5', pts: bl5, color: '#1256ff' },
  { key: 'bl6', pts: bl6, color: '#0c66ff' },
  { key: 'az1', pts: az1, color: '#0a78ff' },
  { key: 'az2', pts: az2, color: '#0888ff' },
  { key: 'az3', pts: az3, color: '#0598ff' },
  { key: 'az4', pts: az4, color: '#02a8ff' },
  { key: 'az5', pts: az5, color: '#00b8ff' },
  { key: 'az6', pts: az6, color: '#00c8ff' },
  { key: 'cy1', pts: cy1, color: '#00d8ff' },
  { key: 'cy2', pts: cy2, color: '#00e8f0' },
  { key: 'cy3', pts: cy3, color: '#00f2d2' },
  { key: 'cy4', pts: cy4, color: '#00f4b4' },
  { key: 'cy5', pts: cy5, color: '#00f096' },
  { key: 'gr1', pts: gr1, color: '#00ec78' },
  { key: 'gr2', pts: gr2, color: '#00ea66' },
  { key: 'gr3', pts: gr3, color: '#00e852' },
  { key: 'gr4', pts: gr4, color: '#08e640' },
  { key: 'gr5', pts: gr5, color: '#18e630' },
  { key: 'gr6', pts: gr6, color: '#28e620' },
  { key: 'gr7', pts: gr7, color: '#3ae810' },
  { key: 'gr8', pts: gr8, color: '#52ea00' },
  { key: 'lm1', pts: lm1, color: '#7cee00' },
  { key: 'lm2', pts: lm2, color: '#9af200' },
  { key: 'lm3', pts: lm3, color: '#b6f400' },
  { key: 'lm4', pts: lm4, color: '#cef600' },
  { key: 'lm5', pts: lm5, color: '#e4f400' },
  { key: 'ye1', pts: ye1, color: '#f6ee00' },
  { key: 'ye2', pts: ye2, color: '#ffe200' },
  { key: 'ye3', pts: ye3, color: '#ffd600' },
  { key: 'ye4', pts: ye4, color: '#ffca00' },
  { key: 'ye5', pts: ye5, color: '#ffbc00' },
  { key: 'or1', pts: or1, color: '#ffaa00' },
  { key: 'or2', pts: or2, color: '#ff9600' },
  { key: 'or3', pts: or3, color: '#ff8200' },
  { key: 'or4', pts: or4, color: '#ff6e00' },
  { key: 'or5', pts: or5, color: '#ff5c00' },
  { key: 'rd1', pts: rd1, color: '#ff4e00' },
  { key: 'rd2', pts: rd2, color: '#ff4600' },
  { key: 'rd3', pts: rd3, color: '#ff3e00' },
  { key: 'rd4', pts: rd4, color: '#ff3800' },
  { key: 'rd5', pts: rd5, color: '#ff3200' },
  { key: 'rd6', pts: rd6, color: '#ff2c00' },
  { key: 'rd7', pts: rd7, color: '#ff2600' },
  { key: 'rd8', pts: rd8, color: '#ff2200' },
];

const TICK_W = 3;

// ticks point into the plot; only the even values carry a label
function BottomTick(props: any) {
  const { x, y, payload } = props;
  const major = xLabels.includes(payload.value);
  return (
    <g>
      <line x1={x} y1={y} x2={x} y2={y - (major ? 21 : 11)} stroke="#000" strokeWidth={TICK_W} />
      {major && (
        <text x={x} y={y + 68} textAnchor="middle" fontFamily={SANS} fontSize={51} fill="#000">
          {payload.value}
        </text>
      )}
    </g>
  );
}

function TopTick(props: any) {
  const { x, y, payload } = props;
  const major = xLabels.includes(payload.value);
  return <line x1={x} y1={y} x2={x} y2={y + (major ? 21 : 11)} stroke="#000" strokeWidth={TICK_W} />;
}

function LeftTick(props: any) {
  const { x, y, payload } = props;
  const v = payload.value;
  const major = yLabels.includes(v);
  // the two end labels sit a little inside the axis range
  const shift = v === 20 ? 9 : v === 30 ? -12 : 0;
  return (
    <g>
      <line x1={x} y1={y} x2={x + (major ? 23 : 12)} y2={y} stroke="#000" strokeWidth={TICK_W} />
      {major && (
        <text x={x - 16} y={y + shift + 18} textAnchor="end" fontFamily={SANS} fontSize={50} fill="#000">
          {v}
        </text>
      )}
    </g>
  );
}

function RightTick(props: any) {
  const { x, y, payload } = props;
  const major = yLabels.includes(payload.value);
  return <line x1={x} y1={y} x2={x - (major ? 23 : 12)} y2={y} stroke="#000" strokeWidth={TICK_W} />;
}

function BarLeftTick(props: any) {
  const { x, y, payload } = props;
  const v = payload.value;
  const inner = v > 1 && v < 13;
  const shift = v === 13 ? 8 : v === 1 ? -13 : 0;
  return (
    <g>
      {inner && <line x1={x} y1={y} x2={x + 23} y2={y} stroke="#000" strokeWidth={2.5} />}
      {zLabels.includes(v) && (
        <text x={x - 19} y={y + shift + 15} textAnchor="end" fontFamily={SANS} fontSize={41} fill="#000">
          {v}
        </text>
      )}
    </g>
  );
}

function BarRightTick(props: any) {
  const { x, y, payload } = props;
  const v = payload.value;
  if (v <= 1 || v >= 13) return <g />;
  return <line x1={x} y1={y} x2={x - 23} y2={y} stroke="#000" strokeWidth={2.5} />;
}

function XTitle(props: any) {
  const { x, y, width } = props.viewBox;
  return (
    <text x={x + width / 2} y={y + 126} textAnchor="middle" fontFamily={SANS} fontSize={53} fill="#000">
      Years Since Explosion (observed)
    </text>
  );
}

function YTitle(props: any) {
  const { x, y, width, height } = props.viewBox;
  const bx = x + width - 116;
  const cy = y + height / 2;
  return (
    <text x={bx} y={cy} transform={`rotate(-90 ${bx} ${cy})`} textAnchor="middle" fontFamily={SANS} fontSize={53} fill="#000">
      Observed K-band Magnitude
    </text>
  );
}

function ZTitle(props: any) {
  const { x, y, width, height } = props.viewBox;
  const bx = x + width - 85;
  const cy = y + height / 2;
  return (
    <text x={bx} y={cy} transform={`rotate(-90 ${bx} ${cy})`} textAnchor="middle" fontFamily={SANS} fontSize={39} fill="#000">
      redshift
    </text>
  );
}

const frame = { stroke: '#000', strokeWidth: 3 };
const barFrame = { stroke: '#000', strokeWidth: 2 };

// one stacked column: an offset up to z = 1, then the colour bands
const barRow: Record<string, number | string> = { name: 'z', base: zBandStart[0] };
zBandStart.forEach((_, i) => {
  barRow[`b${i}`] = Z_BAND;
});

export default function App() {
  const lines = series.map((s) => ({ ...s, data: s.pts.map(([x, y]) => ({ x, y })) }));

  return (
    <div style={{ position: 'absolute', left: 0, top: 0, width: 1815, height: 1277, background: '#fff' }}>
      <div style={{ position: 'absolute', left: 0, top: 0 }}>
        <LineChart width={1450} height={1277} margin={{ top: 13, right: 28, bottom: 139, left: 170 }}>
          <XAxis
            type="number"
            dataKey="x"
            domain={[0.2, 10]}
            allowDataOverflow
            ticks={xTicks}
            interval={0}
            tick={BottomTick}
            tickLine={false}
            tickSize={0}
            tickMargin={0}
            height={1}
            axisLine={frame}
            label={{ content: XTitle }}
          />
          <XAxis
            xAxisId="top"
            orientation="top"
            type="number"
            dataKey="x"
            domain={[0.2, 10]}
            allowDataOverflow
            ticks={xTicks}
            interval={0}
            tick={TopTick}
            tickLine={false}
            tickSize={0}
            tickMargin={0}
            height={1}
            axisLine={frame}
          />
          <YAxis
            type="number"
            domain={[20, 30]}
            reversed
            allowDataOverflow
            ticks={yTicks}
            interval={0}
            tick={LeftTick}
            tickLine={false}
            tickSize={0}
            tickMargin={0}
            width={1}
            axisLine={frame}
            label={{ content: YTitle }}
          />
          <YAxis
            yAxisId="right"
            orientation="right"
            type="number"
            domain={[20, 30]}
            reversed
            allowDataOverflow
            ticks={yTicks}
            interval={0}
            tick={RightTick}
            tickLine={false}
            tickSize={0}
            tickMargin={0}
            width={1}
            axisLine={frame}
          />
          {lines.map((s) => (
            <Line
              key={s.key}
              data={s.data}
              dataKey="y"
              type="monotone"
              stroke={s.color}
              strokeWidth={2.8}
              dot={false}
              activeDot={false}
              isAnimationActive={false}
            />
          ))}
        </LineChart>
      </div>

      <svg width={1815} height={1277} style={{ position: 'absolute', left: 0, top: 0, pointerEvents: 'none' }}>
        <text x={1008} y={162} textAnchor="middle" fontFamily={SERIF} fontSize={54} fill="#000">{noteLines[0]}</text>
        <text x={1009} y={224} textAnchor="middle" fontFamily={SERIF} fontSize={54} fill="#000">{noteLines[1]}</text>
        <text x={1016} y={286} textAnchor="middle" fontFamily={SERIF} fontSize={54} fill="#000">{noteLines[2]}</text>
      </svg>

      <div style={{ position: 'absolute', left: 1540, top: 0 }}>
        <BarChart
          width={275}
          height={1277}
          data={[barRow]}
          margin={{ top: 13, right: 8, bottom: 109, left: 129 }}
          barCategoryGap={0}
          barGap={0}
        >
          <XAxis dataKey="name" type="category" tick={false} tickLine={false} height={1} axisLine={barFrame} />
          <XAxis xAxisId="top" orientation="top" dataKey="name" type="category" tick={false} tickLine={false} height={1} axisLine={barFrame} />
          <YAxis
            type="number"
            domain={[1, 13]}
            allowDataOverflow
            ticks={zTicks}
            interval={0}
            tick={BarLeftTick}
            tickLine={false}
            tickSize={0}
            tickMargin={0}
            width={1}
            axisLine={barFrame}
            label={{ content: ZTitle }}
          />
          <YAxis
            yAxisId="r"
            orientation="right"
            type="number"
            domain={[1, 13]}
            allowDataOverflow
            ticks={zTicks}
            interval={0}
            tick={BarRightTick}
            tickLine={false}
            tickSize={0}
            tickMargin={0}
            width={1}
            axisLine={barFrame}
          />
          <Bar dataKey="base" stackId="z" fill="none" isAnimationActive={false} />
          {zBandStart.map((lo, i) => (
            <Bar key={lo} dataKey={`b${i}`} stackId="z" fill={zBandColor[i]} isAnimationActive={false} />
          ))}
        </BarChart>
      </div>
    </div>
  );
}
